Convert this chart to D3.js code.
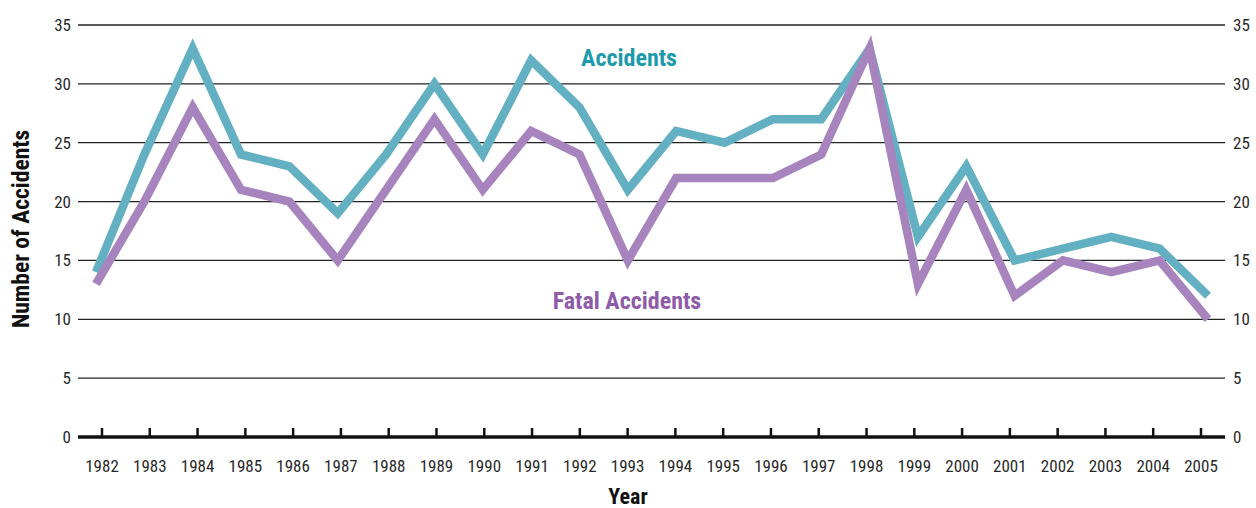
<!DOCTYPE html>
<html><head><meta charset="utf-8">
<script src="https://cdn.jsdelivr.net/npm/d3@7"></script>
<style>
body{margin:0;background:#fff;}
text{font-family:"Liberation Sans Narrow","Roboto Condensed","Arial Narrow",sans-serif;}
</style></head>
<body><svg id="c" width="1256" height="508"></svg>
<script>
const years = [1982,1983,1984,1985,1986,1987,1988,1989,1990,1991,1992,1993,1994,1995,1996,1997,1998,1999,2000,2001,2002,2003,2004,2005];
const accidents = [14,24,33,24,23,19,24,30,24,32,28,21,26,25,27,27,33,17,23,15,16,17,16,12];
const fatalAccidents = [13,20,28,21,20,15,21,27,21,26,24,15,22,22,22,24,33,13,21,12,15,14,15,10];
const yTicks = [0,5,10,15,20,25,30,35];

const svg = d3.select("#c");
const x = d3.scaleLinear().domain([1982,2005]).range([102,1201]);      // tick positions
const xLine = d3.scaleLinear().domain([1982,2005]).range([96,1208]);   // plotted points
const y = d3.scaleLinear().domain([0,35]).range([437,25]);
const gx0 = 78, gx1 = 1225;

// gridlines
svg.append("g").selectAll("line").data(yTicks.filter(d=>d>0)).join("line")
  .attr("x1",gx0).attr("x2",gx1).attr("y1",d=>y(d)).attr("y2",d=>y(d))
  .attr("stroke","#222").attr("stroke-width",1.3);

// left & right labels
svg.append("g").selectAll("text").data(yTicks).join("text")
  .attr("x",71).attr("y",d=>y(d)+6).attr("text-anchor","end")
  .attr("font-size",17).attr("fill","#2a2a2a").text(d=>d);
svg.append("g").selectAll("text").data(yTicks).join("text")
  .attr("x",1233).attr("y",d=>y(d)+6).attr("text-anchor","start")
  .attr("font-size",17).attr("fill","#2a2a2a").text(d=>d);

// lines
const line = (arr)=>d3.line().x((d,i)=>xLine(years[i])).y(d=>y(d))(arr);
svg.append("path").attr("d",line(accidents)).attr("fill","none")
  .attr("stroke","#62b0c1").attr("stroke-width",8.5).attr("stroke-linejoin","miter").attr("stroke-miterlimit",10);
svg.append("path").attr("d",line(fatalAccidents)).attr("fill","none")
  .attr("stroke","#a784bd").attr("stroke-width",8.5).attr("stroke-linejoin","miter").attr("stroke-miterlimit",10);

// baseline and ticks
svg.append("line").attr("x1",gx0).attr("x2",gx1).attr("y1",y(0)).attr("y2",y(0))
  .attr("stroke","#111").attr("stroke-width",3.5);
svg.append("g").selectAll("line").data(years).join("line")
  .attr("x1",d=>x(d)).attr("x2",d=>x(d)).attr("y1",y(0)).attr("y2",y(0)-9)
  .attr("stroke","#111").attr("stroke-width",2.5);
svg.append("g").selectAll("text").data(years).join("text")
  .attr("x",d=>x(d)).attr("y",472).attr("text-anchor","middle")
  .attr("font-size",17).attr("fill","#2a2a2a").text(d=>d);

// titles
svg.append("text").attr("x",628).attr("y",504).attr("text-anchor","middle")
  .attr("font-size",22).attr("font-weight","bold").attr("fill","#111").text("Year");
svg.append("text").attr("transform","translate(29,229) rotate(-90)").attr("text-anchor","middle")
  .attr("font-size",23.5).attr("font-weight","bold").attr("fill","#111").text("Number of Accidents");

// series labels
svg.append("text").attr("x",629).attr("y",66).attr("text-anchor","middle")
  .attr("font-size",24).attr("font-weight","bold").attr("fill","#1d9aab").text("Accidents");
svg.append("text").attr("x",627).attr("y",309).attr("text-anchor","middle")
  .attr("font-size",24).attr("font-weight","bold").attr("fill","#8f5ca9").text("Fatal Accidents");
</script></body></html>
